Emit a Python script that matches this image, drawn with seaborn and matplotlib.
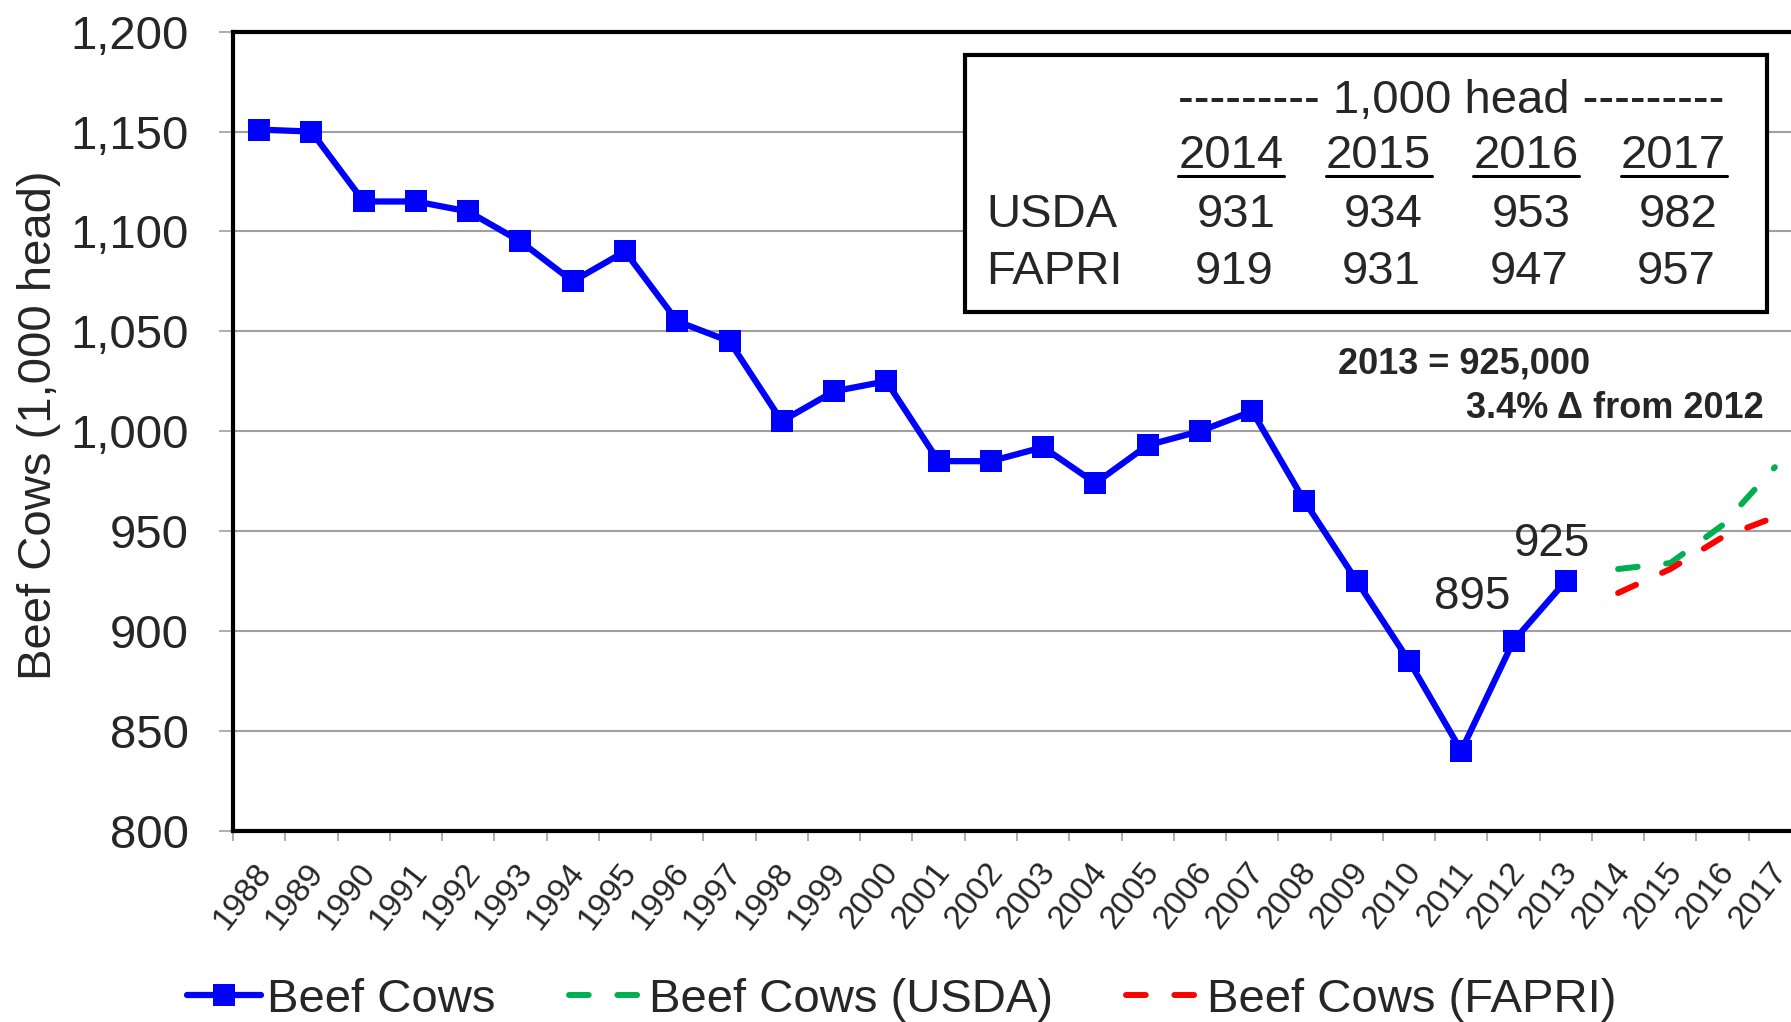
import numpy as np
import pandas as pd
import matplotlib
matplotlib.use('Agg')
import matplotlib.pyplot as plt
import matplotlib.transforms as mtransforms
from matplotlib.patches import Rectangle
from matplotlib.lines import Line2D
from matplotlib.ticker import FuncFormatter, MultipleLocator, FixedLocator
import seaborn as sns

# data (1,000 head)
years = list(range(1988, 2014))
beef_cows = [1151, 1150, 1115, 1115, 1110, 1095, 1075, 1090, 1055, 1045,
             1005, 1020, 1025, 985, 985, 992, 974, 993, 1000, 1010,
             965, 925, 885, 840, 895, 925]
proj_years = [2014, 2015, 2016, 2017]
usda = [931, 934, 953, 982]
fapri = [919, 931, 947, 957]
all_years = list(range(1988, 2018))
labelled_years = [2012, 2013]

W, H = 1791, 1022

sns.set_theme(style="white")
plt.rcParams['font.family'] = ['Liberation Sans', 'DejaVu Sans']


def fx(px):
    return px / W


def fy(py):
    return 1 - py / H


fig = plt.figure(figsize=(W / 100, H / 100), dpi=100)
fig.patch.set_facecolor('white')
ax = fig.add_axes([fx(233), fy(830.7), (1801 - 233) / W, 799 / H])

sns.lineplot(x=years, y=beef_cows, ax=ax, color='#0000FF', lw=4.5,
             marker='s', markersize=16, markeredgewidth=0,
             label='Beef Cows', zorder=5)
sns.lineplot(x=proj_years, y=usda, ax=ax, color='#00B050', lw=4.3,
             linestyle=(0, (3.3, 4.8)), dash_capstyle='round',
             label='Beef Cows (USDA)', zorder=4)
sns.lineplot(x=proj_years, y=fapri, ax=ax, color='#FF0000', lw=4.3,
             linestyle=(0, (3.3, 4.8)), dash_capstyle='round',
             label='Beef Cows (FAPRI)', zorder=4)

ax.set_xlim(all_years[0] - 0.5, all_years[-1] + 0.5)
ax.set_ylim(800, 1200)
ax.yaxis.set_major_locator(MultipleLocator(50))
ax.yaxis.set_major_formatter(FuncFormatter(lambda v, p: f'{v:,.0f}'))
ax.set_xticks(all_years)
ax.set_xticklabels([str(y) for y in all_years], rotation=52, ha='right',
                   va='center', rotation_mode='anchor')
ax.xaxis.set_minor_locator(FixedLocator([y - 0.5 for y in all_years] + [all_years[-1] + 0.5]))

ax.tick_params(axis='x', which='major', length=0, pad=26, labelsize=24)
ax.tick_params(axis='x', which='minor', length=7, width=1.2, color='#A0A0A0', bottom=True)
ax.tick_params(axis='y', length=10, width=1.2, color='#A0A0A0', pad=22,
               labelsize=34, left=True)

ax.yaxis.grid(True, color='#A0A0A0', lw=1.5)
ax.xaxis.grid(False)
ax.set_axisbelow(True)
for side in ['left', 'top', 'bottom']:
    ax.spines[side].set_color('black')
    ax.spines[side].set_linewidth(3)
ax.spines['right'].set_visible(False)

ax.set_xlabel('')
ax.set_ylabel('Beef Cows (1,000 head)', fontsize=34)
ax.yaxis.set_label_coords(-0.1095, 0.5075)

# point labels for the last two actual years
offsets = {2012: (-29.5, 31.7), 2013: (-10, 26.6)}
for yr in labelled_years:
    v = beef_cows[years.index(yr)]
    ax.annotate(str(v), xy=(yr, v), xytext=offsets[yr], textcoords='offset points',
                ha='center', va='center', fontsize=33, zorder=6)

# legend below the axis
handles, labels = ax.get_legend_handles_labels()
if ax.get_legend() is not None:
    ax.get_legend().remove()
fig.legend(handles, labels, loc='center left', bbox_to_anchor=(fx(187), fy(1000)),
           ncol=3, frameon=False, fontsize=34, handlelength=1.57,
           handletextpad=0.13, columnspacing=1.55, borderpad=0,
           borderaxespad=0, numpoints=1)

# projection table
box = Rectangle((fx(965), fy(312)), (1767 - 965) / W, (312 - 55) / H,
                transform=fig.transFigure, facecolor='white',
                edgecolor='black', lw=3, zorder=2)
fig.add_artist(box)
fig.text(fx(1451), fy(101), '--------- 1,000 head ---------', fontsize=34,
         ha='center', va='center', zorder=3)
col_x = [1231 + 147.5 * i for i in range(len(proj_years))]
for cx, yr, u, f in zip(col_x, proj_years, usda, fapri):
    fig.text(fx(cx), fy(156), str(yr), fontsize=34, ha='center', va='center', zorder=3)
    fig.add_artist(Line2D([fx(cx - 53), fx(cx + 53)], [fy(176), fy(176)],
                          transform=fig.transFigure, color='black', lw=2.2, zorder=3))
    fig.text(fx(cx + 5), fy(215), str(u), fontsize=34, ha='center', va='center', zorder=3)
    fig.text(fx(cx + 3), fy(272), str(f), fontsize=34, ha='center', va='center', zorder=3)
fig.text(fx(986), fy(215), 'USDA', fontsize=34, ha='left', va='center', zorder=3)
fig.text(fx(986), fy(272), 'FAPRI', fontsize=34, ha='left', va='center', zorder=3)

fig.text(fx(1338), fy(364), '2013 = 925,000', fontsize=26, weight='bold',
         ha='left', va='center')
fig.text(fx(1764), fy(408), '3.4% \u0394 from 2012', fontsize=26, weight='bold',
         ha='right', va='center')

# nudge rotated year labels to sit like the original
shift = mtransforms.ScaledTranslation(6 / 100, 0, fig.dpi_scale_trans)
for lbl in ax.get_xticklabels():
    lbl.set_transform(lbl.get_transform() + shift)

fig.savefig('out.png', dpi=100, facecolor='white')
